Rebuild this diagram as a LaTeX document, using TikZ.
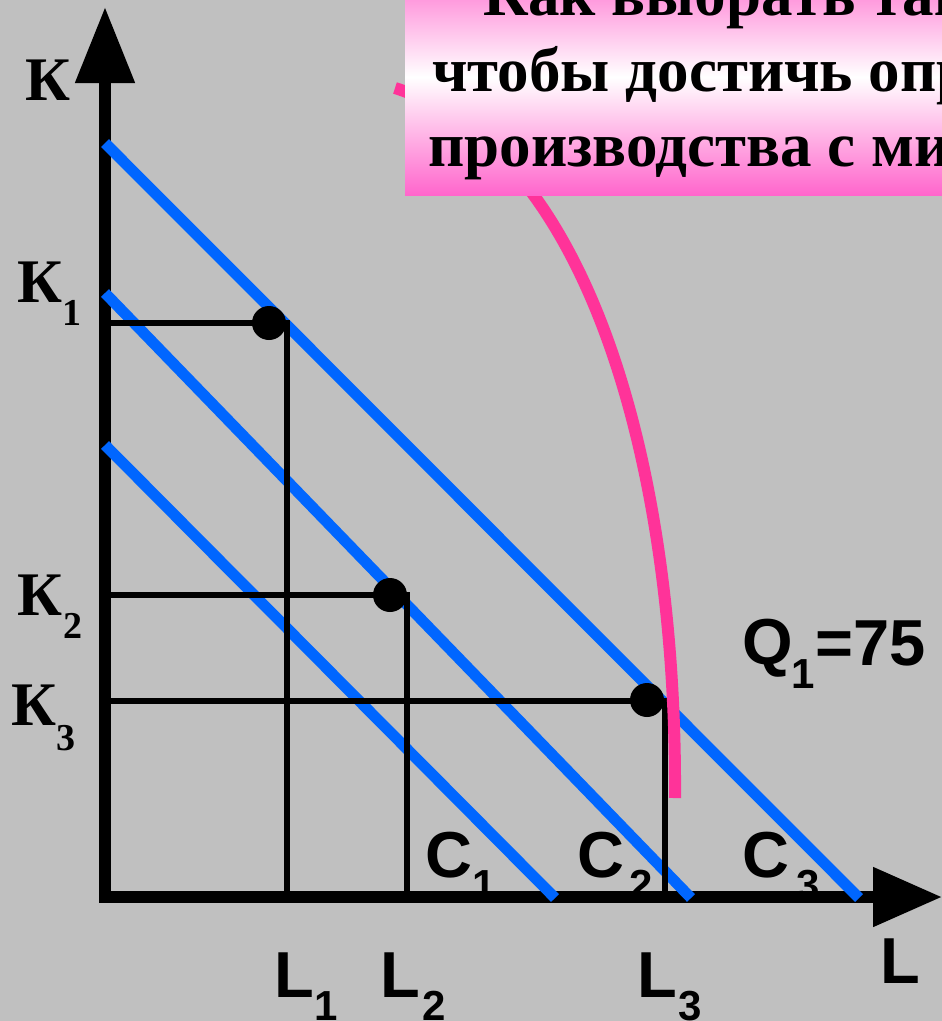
\documentclass[tikz,border=0pt]{standalone}
\usepackage{fontspec}
\setmainfont{Liberation Serif}
\newfontfamily\sansf{Liberation Sans}
\usetikzlibrary{arrows.meta}
\definecolor{bgc}{RGB}{192,192,192}
\definecolor{bluec}{RGB}{0,102,255}
\definecolor{pinkc}{RGB}{255,51,153}
\definecolor{boxpink}{RGB}{255,102,204}
\pgfdeclareverticalshading{titlesh}{100bp}{color(0bp)=(boxpink); color(25bp)=(boxpink); color(50bp)=(white); color(75bp)=(boxpink); color(100bp)=(boxpink)}
\tikzset{
  axisline/.style={line width=11.5pt, line join=miter, draw=black,
    {Triangle[length=76pt,width=57pt]}-{Triangle[length=69pt,width=57pt]}},
  budget/.style={line width=11pt, draw=bluec},
  guide/.style={line width=6.5pt, draw=black, line join=miter},
  dotc/.style={circle, fill=black, minimum size=34pt, inner sep=0pt},
  isoq/.style={line width=12pt, draw=pinkc},
  titlebox/.style={shading=titlesh, minimum width=560pt, minimum height=236pt, inner sep=0pt},
  tx/.style={inner sep=0pt, anchor=base west},
  serifbig/.style={font=\bfseries\fontsize{62}{62}\selectfont},
  serifsub/.style={font=\bfseries\fontsize{38}{38}\selectfont},
  sansbig/.style={font=\sansf\bfseries\fontsize{65}{65}\selectfont},
  sanssub/.style={font=\sansf\bfseries\fontsize{42}{42}\selectfont},
  titletext/.style={font=\bfseries\fontsize{63}{75}\selectfont},
}
\begin{document}
\begin{tikzpicture}[x=1pt,y=-1pt]
\useasboundingbox (0,0) rectangle (942,1021);
\fill[bgc] (0,0) rectangle (942,1021);
\clip (0,0) rectangle (942,1021);

% C labels (partly under the axis)
\node[tx,sansbig] (c1) at (425,877) {C};
\node[tx,sanssub] (c1s) at (472,899) {1};
\node[tx,sansbig] (c2) at (577,877) {C};
\node[tx,sanssub] (c2s) at (629,899) {2};
\node[tx,sansbig] (c3) at (742,877) {C};
\node[tx,sanssub] (c3s) at (796,899) {3};

% axes
\coordinate (O) at (105,897);
\coordinate (Ktip) at (105,7);
\coordinate (Ltip) at (942,897);
\draw[axisline] (Ktip) -- (O) -- (Ltip);

% budget lines
\coordinate (c3a) at (105,143); \coordinate (c3b) at (859,898);
\coordinate (c2a) at (105,293); \coordinate (c2b) at (691,898);
\coordinate (c1a) at (105,445); \coordinate (c1b) at (555,898);
\draw[budget] (c3a) -- (c3b);
\draw[budget] (c2a) -- (c2b);
\draw[budget] (c1a) -- (c1b);

% guide lines
\coordinate (k1y) at (105,323); \coordinate (p1) at (287,323); \coordinate (l1x) at (287,897);
\coordinate (k2y) at (105,595); \coordinate (p2) at (407,595); \coordinate (l2x) at (407,897);
\coordinate (k3y) at (105,701); \coordinate (p3) at (665,701); \coordinate (l3x) at (665,897);
\draw[guide] (k1y) -- (p1) -- (l1x);
\draw[guide] (k2y) -- (p2) -- (l2x);
\draw[guide] (k3y) -- (p3) -- (l3x);

% points
\node[dotc] (d1) at (269,323) {};
\node[dotc] (d2) at (390,595) {};
\node[dotc] (d3) at (647,700) {};

% isoquant
\coordinate (qa) at (395,88);
\coordinate (qb) at (675,798);
\draw[isoq] (qa) .. controls (590,150) and (677,470) .. (qb);

% title box
\node[titlebox] (box) at (685,77) {};
\node[tx,titletext] (t1) at (483,15) {Как выбрать так};
\node[tx,titletext] (t2) at (432,91) {чтобы достичь опр};
\node[tx,titletext] (t3) at (428,166) {производства с мин};

% K labels
\node[tx,serifbig] (k) at (25,100) {К};
\node[tx,serifbig] (k1) at (17,302) {К};
\node[tx,serifsub] (k1s) at (62,325) {1};
\node[tx,serifbig] (k2) at (17,615) {К};
\node[tx,serifsub] (k2s) at (63,638) {2};
\node[tx,serifbig] (k3) at (11,725) {К};
\node[tx,serifsub] (k3s) at (56,750) {3};

% L labels
\node[tx,sansbig] (l1) at (274,997) {L};
\node[tx,sanssub] (l1s) at (314,1020) {1};
\node[tx,sansbig] (l2) at (380,997) {L};
\node[tx,sanssub] (l2s) at (422,1020) {2};
\node[tx,sansbig] (l3) at (637,997) {L};
\node[tx,sanssub] (l3s) at (678,1020) {3};
\node[tx,sansbig] (lax) at (880,983) {L};

% Q label
\node[tx,sansbig] (q) at (742,664) {Q};
\node[tx,sanssub] (qs) at (791,688) {1};
\node[tx,sansbig] (qv) at (815,665) {=75};
\end{tikzpicture}
\end{document}
